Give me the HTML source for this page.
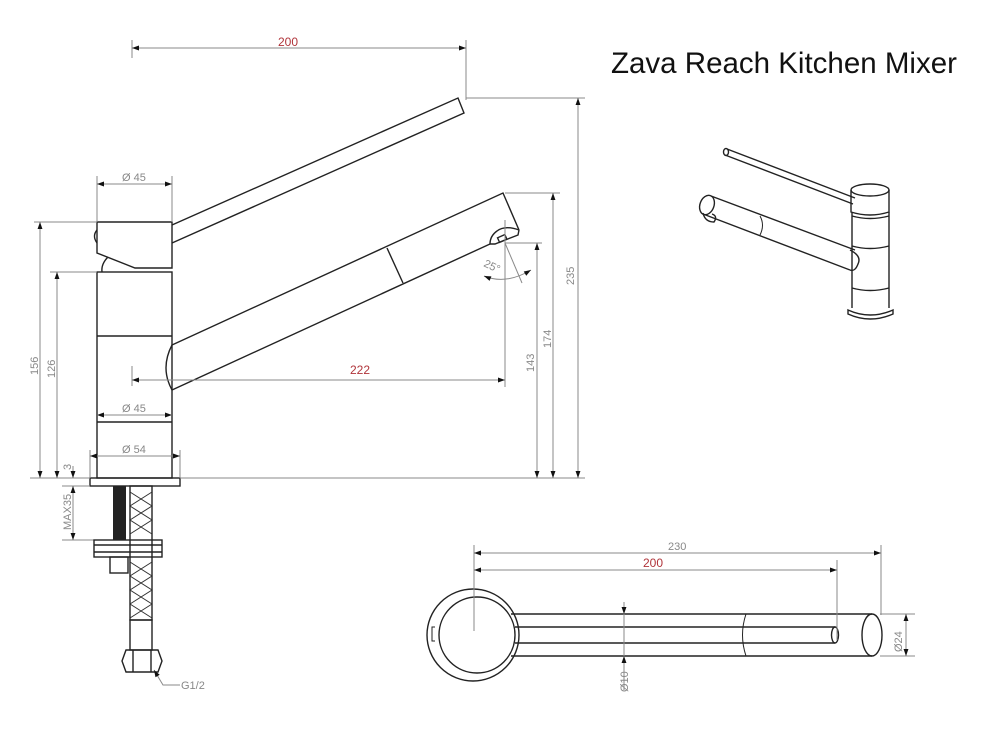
<!DOCTYPE html>
<html><head><meta charset="utf-8"><style>
html,body{margin:0;padding:0;background:#fff;}
svg{display:block;}
.d{stroke:#8a8a8a;stroke-width:1;fill:none;}
.o{stroke:#222;stroke-width:1.4;fill:none;}
.t{font-family:"Liberation Sans",sans-serif;font-size:11px;fill:#888;}
.r{font-family:"Liberation Sans",sans-serif;font-size:12px;fill:#b0343a;}
</style></head><body>
<svg width="1000" height="750" viewBox="0 0 1000 750" xmlns="http://www.w3.org/2000/svg">
<defs>
<marker id="a" viewBox="0 0 10 10" refX="10" refY="5" markerWidth="9" markerHeight="7" orient="auto-start-reverse" markerUnits="userSpaceOnUse"><path d="M0,1.5L10,5L0,8.5z" fill="#111"/></marker>
</defs>
<text x="611" y="73" font-family="Liberation Sans,sans-serif" font-size="29.5" fill="#111">Zava Reach Kitchen Mixer</text>

<!-- top 200 dim -->
<line class="d" x1="132" y1="40" x2="132" y2="58"/>
<line class="d" x1="466" y1="40" x2="466" y2="100"/>
<line class="d" x1="132" y1="48" x2="466" y2="48" marker-start="url(#a)" marker-end="url(#a)"/>
<text class="r" x="278" y="46">200</text>

<!-- lever -->
<path class="o" d="M172,225 L458,98 L464,113 L172,243"/>
<!-- head -->
<path class="o" d="M97,222 L172,222 L172,268 L135,268 L97,253 Z"/>
<path class="o" d="M97,230 Q92,236 97,243"/>
<path class="o" d="M108,257 Q101,264 102,272"/>
<!-- body -->
<rect class="o" x="97" y="272" width="75" height="206"/>
<line class="o" x1="97" y1="336" x2="172" y2="336"/>
<line class="o" x1="97" y1="422" x2="172" y2="422"/>
<rect class="o" x="90" y="478" width="90" height="8"/>
<!-- spout -->
<path class="o" d="M172,345 L503,193 L519,230"/>
<path class="o" d="M172,390 L490,244"/>
<path class="o" d="M172,345 Q160,368 172,390" stroke="#aaa"/>
<line class="o" x1="387" y1="248" x2="403" y2="283"/>
<path class="o" d="M519,230 L518,235 L495,244 L490,244 Q490,236 497,231 Q505,225 519,230"/>
<rect class="o" x="498" y="236" width="8" height="5" transform="rotate(-24 502 238)"/>

<!-- Ø45 top -->
<line class="d" x1="97" y1="176" x2="97" y2="222"/>
<line class="d" x1="172" y1="176" x2="172" y2="222"/>
<line class="d" x1="97" y1="184" x2="172" y2="184" marker-start="url(#a)" marker-end="url(#a)"/>
<text class="t" x="122" y="181">Ø 45</text>
<!-- Ø45 lower -->
<line class="d" x1="97" y1="415" x2="172" y2="415" marker-start="url(#a)" marker-end="url(#a)"/>
<text class="t" x="122" y="412">Ø 45</text>
<!-- Ø54 -->
<line class="d" x1="90" y1="450" x2="90" y2="478"/>
<line class="d" x1="180" y1="450" x2="180" y2="478"/>
<line class="d" x1="90" y1="456" x2="180" y2="456" marker-start="url(#a)" marker-end="url(#a)"/>
<text class="t" x="122" y="453">Ø 54</text>

<!-- left vertical dims -->
<line class="d" x1="34" y1="222" x2="97" y2="222"/>
<line class="d" x1="50" y1="272" x2="97" y2="272"/>
<line class="d" x1="30" y1="478" x2="90" y2="478"/>
<line class="d" x1="180" y1="478" x2="585" y2="478"/>
<line class="d" x1="62" y1="486" x2="90" y2="486"/>
<line class="d" x1="62" y1="540" x2="100" y2="540"/>
<line class="d" x1="40" y1="222" x2="40" y2="478" marker-start="url(#a)" marker-end="url(#a)"/>
<line class="d" x1="57" y1="272" x2="57" y2="478" marker-start="url(#a)" marker-end="url(#a)"/>
<line class="d" x1="73" y1="466" x2="73" y2="478" marker-end="url(#a)"/>
<line class="d" x1="73" y1="486" x2="73" y2="540" marker-start="url(#a)" marker-end="url(#a)"/>
<text class="t" transform="translate(38,375) rotate(-90)">156</text>
<text class="t" transform="translate(55,378) rotate(-90)">126</text>
<text class="t" transform="translate(71,470) rotate(-90)">3</text>
<text class="t" transform="translate(71,530) rotate(-90)">MAX35</text>

<!-- hose -->
<rect x="113" y="486" width="13" height="54" fill="#222"/>
<rect class="o" x="130" y="486" width="22" height="134" stroke-width="1"/>
<path d="M130,492 L152,506 L130,520 L152,534 M152,492 L130,506 L152,520 L130,534 M130,562 L152,576 L130,590 L152,604 M152,562 L130,576 L152,590 L130,604 M130,604 L152,618 M152,604 L130,618" stroke="#333" stroke-width="1" fill="none"/>
<rect class="o" x="94" y="540" width="68" height="17"/>
<line class="o" x1="94" y1="545" x2="162" y2="545" stroke-width="1"/>
<line class="o" x1="94" y1="552" x2="162" y2="552" stroke-width="1"/>
<rect class="o" x="110" y="557" width="18" height="16"/>
<rect class="o" x="130" y="620" width="22" height="30"/>
<path class="o" d="M126,650 L158,650 L162,661 L158,672 L126,672 L122,661 Z"/>
<line class="o" x1="133" y1="650" x2="133" y2="672" stroke-width="1"/>
<line class="o" x1="151" y1="650" x2="151" y2="672" stroke-width="1"/>
<path d="M154,670 L163,685 L180,685" class="d" marker-start="url(#a)"/>
<text class="t" x="181" y="689">G1/2</text>

<!-- right dims -->
<line class="d" x1="466" y1="98" x2="585" y2="98"/>
<line class="d" x1="578" y1="98" x2="578" y2="478" marker-start="url(#a)" marker-end="url(#a)"/>
<text class="t" transform="translate(574,285) rotate(-90)" font-size="12">235</text>
<line class="d" x1="505" y1="193" x2="560" y2="193"/>
<line class="d" x1="553" y1="193" x2="553" y2="478" marker-start="url(#a)" marker-end="url(#a)"/>
<text class="t" transform="translate(551,348) rotate(-90)">174</text>
<line class="d" x1="505" y1="243" x2="542" y2="243"/>
<line class="d" x1="537" y1="243" x2="537" y2="478" marker-start="url(#a)" marker-end="url(#a)"/>
<text class="t" transform="translate(534,372) rotate(-90)">143</text>
<line class="d" x1="505" y1="220" x2="505" y2="387"/>
<line class="d" x1="132" y1="366" x2="132" y2="386"/>
<line class="d" x1="132" y1="380" x2="505" y2="380" marker-start="url(#a)" marker-end="url(#a)"/>
<text class="r" x="350" y="374">222</text>
<!-- 25 deg -->
<line class="d" x1="505" y1="243" x2="522" y2="283"/>
<path class="d" d="M484,276 Q506,285 531,270" marker-start="url(#a)" marker-end="url(#a)"/>
<text class="t" transform="translate(483,266) rotate(25)">25°</text>

<!-- isometric -->
<g class="o" stroke-width="1.3">
<path d="M727,149 L855,198 M725,155 L853,204"/>
<ellipse cx="726" cy="152" rx="2.5" ry="3.5"/>
<path d="M851,190 L851,212 Q870,218 889,212 L889,190"/>
<ellipse cx="870" cy="190" rx="19" ry="6"/>
<path d="M852,212 L852,308 M889,212 L889,308"/>
<path d="M852,216 Q870,221 889,216 M852,246 Q870,251 889,246 M852,288 Q870,293 889,288"/>
<path d="M848,310 Q870,320 893,310 L893,314 Q870,324 848,314 Z"/>
<path d="M711,196 L855,250 M703,214 L850,270"/>
<path d="M850,250 Q862,256 858,264 Q855,272 850,270"/>
<ellipse cx="707" cy="205" rx="7" ry="10" transform="rotate(20 707 205)"/>
<path d="M703,213 Q705,222 714,222 Q718,216 712,214"/>
<path d="M760,216 Q765,225 760,235" stroke-width="1"/>
</g>

<!-- top view -->
<g class="o">
<circle cx="473" cy="635" r="46"/>
<circle cx="477" cy="635" r="38"/>
<path d="M435,627 L432,627 L432,641 L435,641" stroke-width="1"/>
<path d="M511,614 L872,614 M511,656 L872,656"/>
<path d="M515,627 L835,627 M515,643 L835,643"/>
<ellipse cx="835" cy="635" rx="3.5" ry="8"/>
<ellipse cx="872" cy="635" rx="10" ry="21"/>
<path d="M746,614 Q739,635 746,656" stroke-width="1"/>
</g>
<line class="d" x1="474" y1="545" x2="474" y2="631"/>
<line class="d" x1="881" y1="545" x2="881" y2="615"/>
<line class="d" x1="837" y1="560" x2="837" y2="640"/>
<line class="d" x1="474" y1="553" x2="881" y2="553" marker-start="url(#a)" marker-end="url(#a)"/>
<text class="t" x="668" y="550">230</text>
<line class="d" x1="474" y1="570" x2="837" y2="570" marker-start="url(#a)" marker-end="url(#a)"/>
<text class="r" x="643" y="567">200</text>
<line class="d" x1="624" y1="608" x2="624" y2="690"/>
<line class="d" x1="624" y1="602" x2="624" y2="614" marker-end="url(#a)"/>
<line class="d" x1="624" y1="668" x2="624" y2="656" marker-end="url(#a)"/>
<text class="t" transform="translate(628,692) rotate(-90)">Ø10</text>
<line class="d" x1="880" y1="614" x2="915" y2="614"/>
<line class="d" x1="880" y1="656" x2="915" y2="656"/>
<line class="d" x1="906" y1="614" x2="906" y2="656" marker-start="url(#a)" marker-end="url(#a)"/>
<text class="t" transform="translate(902,652) rotate(-90)">Ø24</text>
</svg>
</body></html>
